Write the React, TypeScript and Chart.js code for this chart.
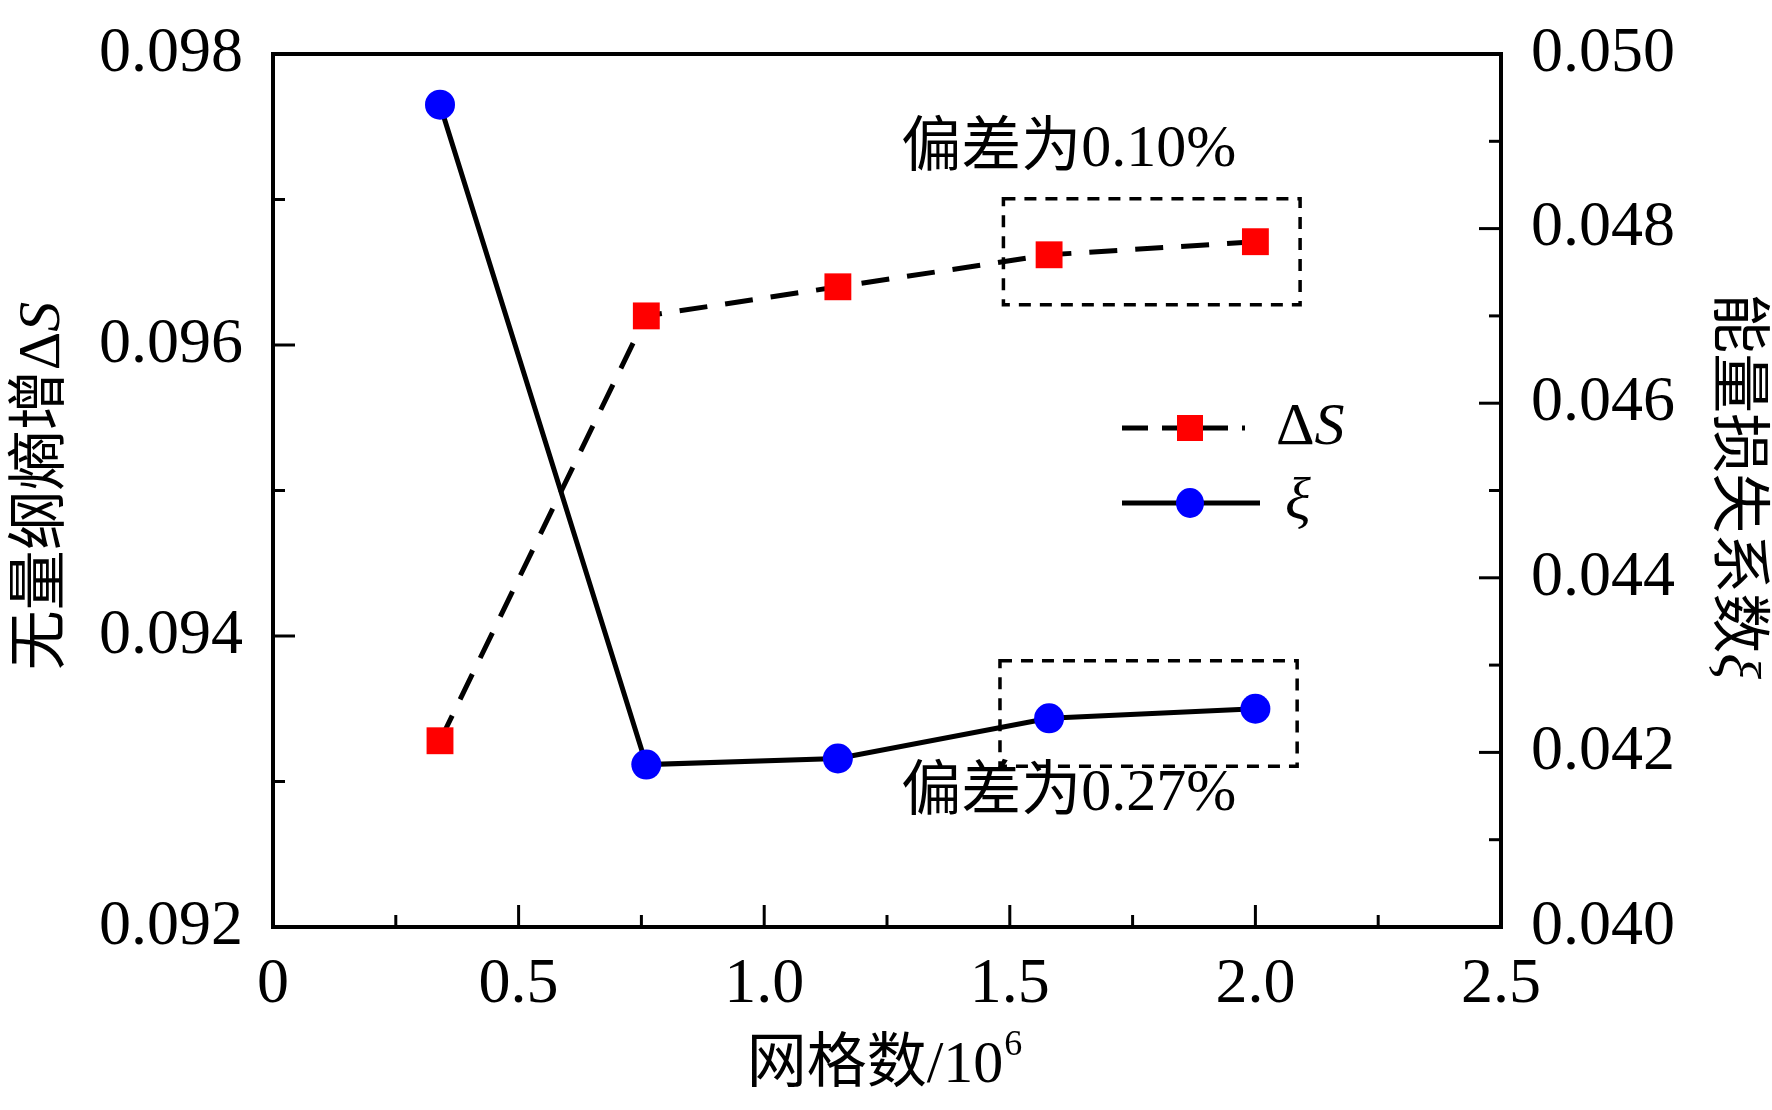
import React, { useEffect, useRef } from "react";
import { Chart, registerables } from "chart.js";
Chart.register(...registerables);

const gridX = [0.34, 0.76, 1.15, 1.58, 2.0];
const deltaS = [0.09328, 0.0962, 0.0964, 0.09662, 0.09671];
const xi = [0.04942, 0.04186, 0.04193, 0.04239, 0.0425];
const xTicks = [0, 0.5, 1.0, 1.5, 2.0, 2.5];
const leftTicks = [0.092, 0.094, 0.096, 0.098];
const rightTicks = [0.04, 0.042, 0.044, 0.046, 0.048, 0.05];

const SERIF = "'Liberation Serif', 'Noto Sans CJK SC', serif";

const overlay = {
  id: "overlay",
  afterDatasetsDraw(chart: any) {
    const ctx = chart.ctx;
    const { left, right, top, bottom } = chart.chartArea;
    const sx = chart.scales.x, sl = chart.scales.y, sr = chart.scales.y1;
    ctx.save();
    ctx.strokeStyle = "#000";
    ctx.lineWidth = 4;
    ctx.strokeRect(left, top, right - left, bottom - top);
    ctx.lineWidth = 3;
    const tick = (x1: number, y1: number, x2: number, y2: number) => {
      ctx.beginPath(); ctx.moveTo(x1, y1); ctx.lineTo(x2, y2); ctx.stroke();
    };
    for (let i = 0; i < xTicks.length; i++) {
      const p = sx.getPixelForValue(xTicks[i]);
      tick(p, bottom, p, bottom - 22);
      if (i < xTicks.length - 1) {
        const m = sx.getPixelForValue((xTicks[i] + xTicks[i + 1]) / 2);
        tick(m, bottom, m, bottom - 12);
      }
    }
    for (let i = 0; i < leftTicks.length; i++) {
      const p = sl.getPixelForValue(leftTicks[i]);
      tick(left, p, left + 22, p);
      if (i < leftTicks.length - 1) {
        const m = sl.getPixelForValue((leftTicks[i] + leftTicks[i + 1]) / 2);
        tick(left, m, left + 12, m);
      }
    }
    for (let i = 0; i < rightTicks.length; i++) {
      const p = sr.getPixelForValue(rightTicks[i]);
      tick(right, p, right - 22, p);
      if (i < rightTicks.length - 1) {
        const m = sr.getPixelForValue((rightTicks[i] + rightTicks[i + 1]) / 2);
        tick(right, m, right - 12, m);
      }
    }
    // dashed boxes
    ctx.setLineDash([12, 9]);
    ctx.lineWidth = 3.5;
    const bx1 = sx.getPixelForValue(1.487), bx2 = sx.getPixelForValue(2.091);
    const ty1 = sl.getPixelForValue(0.097005), ty2 = sl.getPixelForValue(0.096276);
    ctx.strokeRect(bx1, ty1, bx2 - bx1, ty2 - ty1);
    const by1 = sr.getPixelForValue(0.04305), by2 = sr.getPixelForValue(0.04184);
    const bx0 = sx.getPixelForValue(1.48), bx3 = sx.getPixelForValue(2.085);
    ctx.strokeRect(bx0, by1, bx3 - bx0, by2 - by1);
    ctx.setLineDash([]);
    // annotation texts
    ctx.fillStyle = "#000";
    ctx.font = `60px ${SERIF}`;
    ctx.textAlign = "center";
    ctx.textBaseline = "middle";
    ctx.fillText("偏差为0.10%", sx.getPixelForValue(1.62), sl.getPixelForValue(0.09734));
    ctx.fillText("偏差为0.27%", sx.getPixelForValue(1.62), sr.getPixelForValue(0.04152));
    // legend
    const lx1 = 1122, lx2 = 1245, lm = 1190;
    const ly1 = 428, ly2 = 503;
    ctx.lineWidth = 5;
    ctx.setLineDash([26, 14]);
    tick(lx1, ly1, lx2, ly1);
    ctx.setLineDash([]);
    ctx.fillStyle = "#ff0000";
    ctx.fillRect(lm - 13, ly1 - 13, 26, 26);
    ctx.strokeStyle = "#000";
    tick(lx1, ly2, lx2 + 15, ly2);
    ctx.fillStyle = "#0000ff";
    ctx.beginPath(); ctx.ellipse(lm, ly2, 14, 15, 0, 0, Math.PI * 2); ctx.fill();
    ctx.fillStyle = "#000";
    ctx.textAlign = "left";
    ctx.font = `60px ${SERIF}`;
    ctx.fillText("Δ", 1276, ly1);
    const dw = ctx.measureText("Δ").width;
    ctx.font = `italic 60px ${SERIF}`;
    ctx.fillText("S", 1276 + dw, ly1);
    ctx.fillText("ξ", 1285, ly2);
    // axis titles
    ctx.font = `60px ${SERIF}`;
    ctx.textAlign = "center";
    ctx.fillText("网格数/10", 875, 1066);
    const xw = ctx.measureText("网格数/10").width;
    ctx.font = `36px ${SERIF}`;
    ctx.textAlign = "left";
    ctx.fillText("6", 875 + xw / 2 + 1, 1046);
    // left title
    ctx.save();
    ctx.translate(43, 486);
    ctx.rotate(-Math.PI / 2);
    ctx.font = `60px ${SERIF}`;
    const a = "无量纲熵增Δ";
    const aw = ctx.measureText(a).width;
    ctx.font = `italic 60px ${SERIF}`;
    const sw = ctx.measureText("S").width;
    const st = -(aw + sw) / 2;
    ctx.font = `60px ${SERIF}`;
    ctx.fillText(a, st, 0);
    ctx.font = `italic 60px ${SERIF}`;
    ctx.fillText("S", st + aw, 0);
    ctx.restore();
    // right title
    ctx.save();
    ctx.translate(1735, 486);
    ctx.rotate(Math.PI / 2);
    ctx.font = `60px ${SERIF}`;
    const b = "能量损失系数";
    const bw = ctx.measureText(b).width;
    ctx.font = `italic 60px ${SERIF}`;
    const xiw = ctx.measureText("ξ").width;
    const st2 = -(bw + xiw) / 2;
    ctx.font = `60px ${SERIF}`;
    ctx.fillText(b, st2, 0);
    ctx.font = `italic 60px ${SERIF}`;
    ctx.fillText("ξ", st2 + bw, 0);
    ctx.restore();
    ctx.restore();
  },
};

export default function App() {
  const ref = useRef<HTMLCanvasElement>(null);
  useEffect(() => {
    document.body.style.margin = "0";
    const tickFont = { family: SERIF, size: 64, lineHeight: 1 };
    const chart = new Chart(ref.current!, {
      type: "line",
      data: {
        datasets: [
          {
            label: "ΔS",
            data: gridX.map((x, i) => ({ x, y: deltaS[i] })),
            yAxisID: "y",
            borderColor: "#000",
            borderWidth: 5,
            borderDash: [28, 18],
            pointStyle: "rect",
            pointRadius: 19,
            pointBackgroundColor: "#ff0000",
            pointBorderColor: "#ff0000",
            pointBorderWidth: 0,
          },
          {
            label: "ξ",
            data: gridX.map((x, i) => ({ x, y: xi[i] })),
            yAxisID: "y1",
            borderColor: "#000",
            borderWidth: 5,
            pointStyle: "circle",
            pointRadius: 15,
            pointBackgroundColor: "#0000ff",
            pointBorderColor: "#0000ff",
            pointBorderWidth: 0,
          },
        ],
      },
      options: {
        animation: false,
        responsive: false,
        devicePixelRatio: 1,
        layout: { padding: { top: 11, left: 0, right: 0, bottom: 0 } },
        plugins: { legend: { display: false }, tooltip: { enabled: false } },
        scales: {
          x: {
            type: "linear", min: 0, max: 2.5,
            afterBuildTicks: (s: any) => { s.ticks = xTicks.map((v) => ({ value: v })); },
            afterFit: (s: any) => { s.height = 183; },
            grid: { display: false }, border: { display: false },
            ticks: { font: tickFont, color: "#000", padding: 18, maxRotation: 0,
              callback: (v: any) => (v === 0 ? "0" : Number(v).toFixed(1)) },
          },
          y: {
            type: "linear", position: "left", min: 0.092, max: 0.098,
            afterBuildTicks: (s: any) => { s.ticks = leftTicks.map((v) => ({ value: v })); },
            afterFit: (s: any) => { s.width = 273; },
            grid: { display: false }, border: { display: false },
            ticks: { font: tickFont, color: "#000", padding: 22, callback: (v: any) => Number(v).toFixed(3) },
          },
          y1: {
            type: "linear", position: "right", min: 0.04, max: 0.05,
            afterBuildTicks: (s: any) => { s.ticks = rightTicks.map((v) => ({ value: v })); },
            afterFit: (s: any) => { s.width = 271; },
            grid: { display: false }, border: { display: false },
            ticks: { font: tickFont, color: "#000", padding: 22, callback: (v: any) => Number(v).toFixed(3) },
          },
        },
      },
      plugins: [overlay],
    });
    return () => chart.destroy();
  }, []);
  return <canvas ref={ref} width={1772} height={1110} style={{ display: "block", background: "#fff" }} />;
}
